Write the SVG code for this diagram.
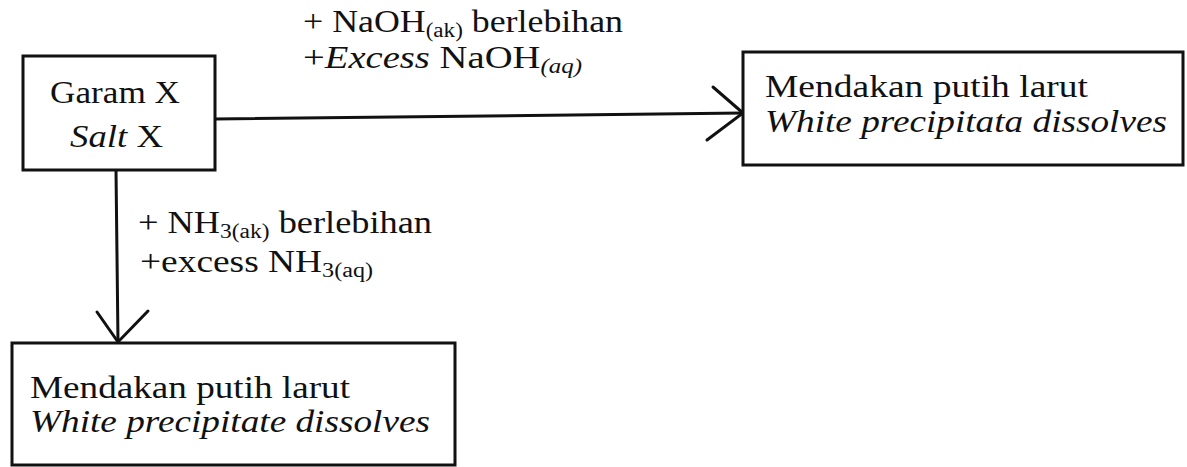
<svg xmlns="http://www.w3.org/2000/svg" width="1187" height="467" viewBox="0 0 1187 467">
<style>
.box{fill:#fff;stroke:#111;stroke-width:3}
.t{font-family:'Liberation Serif',Tinos,'Times New Roman',Times,serif;font-size:31px;fill:#111}
.i{font-style:italic}
.sub{font-size:20px}
.con{fill:none;stroke:#111;stroke-width:3;stroke-linecap:round;stroke-linejoin:miter}
</style>
<rect width="1187" height="467" fill="#fff"/>
<g id="connectors">
<path class="con" d="M215,119 L743,113"/>
<path class="con" d="M713,87 L743,113 L707,140"/>
<path class="con" d="M116,170 L118,342"/>
<path class="con" d="M97,312 L118,342 L148,311"/>
<text class="t" x="303" y="32" textLength="320" lengthAdjust="spacingAndGlyphs">+ NaOH<tspan class="sub" dy="5">(ak)</tspan><tspan dy="-5"> berlebihan</tspan></text>
<text class="t" x="303" y="68" textLength="279" lengthAdjust="spacingAndGlyphs">+<tspan class="i">Excess</tspan> NaOH<tspan class="sub i" dy="5">(aq)</tspan></text>
<text class="t" x="138" y="233" textLength="294" lengthAdjust="spacingAndGlyphs">+ NH<tspan class="sub" dy="5">3(ak)</tspan><tspan dy="-5"> berlebihan</tspan></text>
<text class="t" x="140" y="272" textLength="233" lengthAdjust="spacingAndGlyphs">+excess NH<tspan class="sub" dy="5">3(aq)</tspan></text>
</g>
<g id="salt">
<rect class="box" x="23" y="56" width="192" height="114"/>
<text class="t" x="50" y="103" textLength="130" lengthAdjust="spacingAndGlyphs">Garam X</text>
<text class="t" x="70" y="147" textLength="93" lengthAdjust="spacingAndGlyphs"><tspan class="i">Salt</tspan> X</text>
</g>
<g id="naoh-result">
<rect class="box" x="743" y="52" width="440" height="113"/>
<text class="t" x="765" y="97" textLength="323" lengthAdjust="spacingAndGlyphs">Mendakan putih larut</text>
<text class="t i" x="765" y="132" textLength="402" lengthAdjust="spacingAndGlyphs">White precipitata dissolves</text>
</g>
<g id="nh3-result">
<rect class="box" x="12" y="343" width="443" height="122"/>
<text class="t" x="30" y="398" textLength="320" lengthAdjust="spacingAndGlyphs">Mendakan putih larut</text>
<text class="t i" x="30" y="432" textLength="400" lengthAdjust="spacingAndGlyphs">White precipitate dissolves</text>
</g>
</svg>
